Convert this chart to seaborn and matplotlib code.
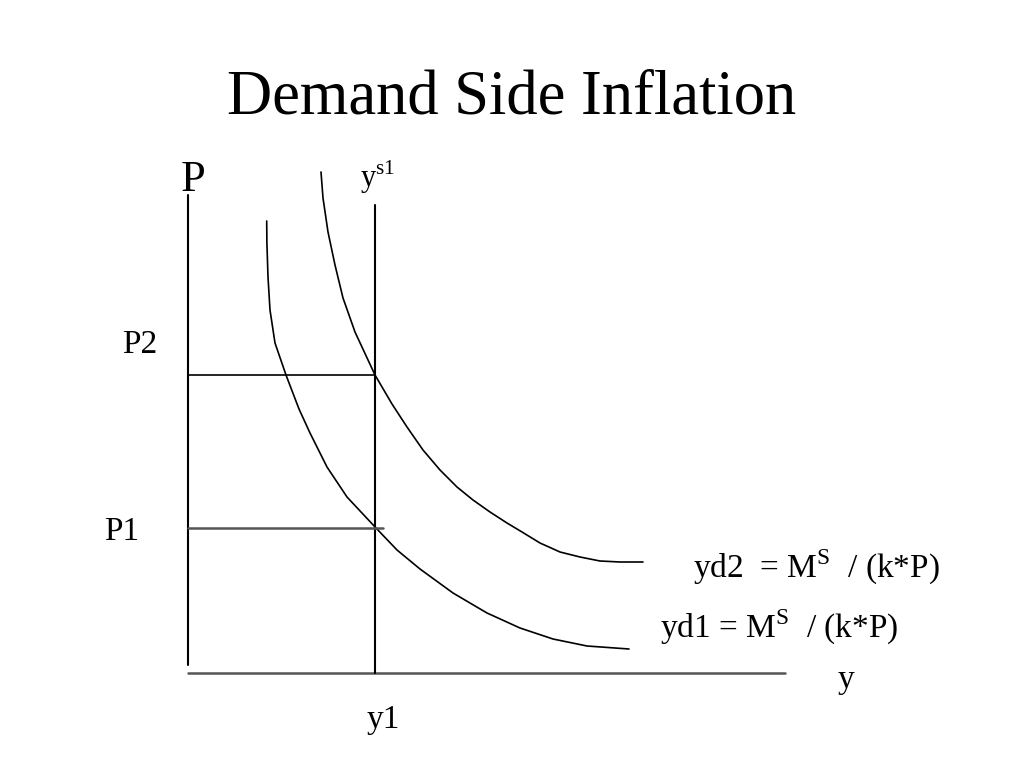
import matplotlib
matplotlib.use('Agg')
import matplotlib.pyplot as plt
import pandas as pd
import seaborn as sns

# Diagram units: origin where the two axes meet (x to the right, P upward)
# Demand curve yd1
yd1_x = [78.7, 78.9, 80, 82, 87, 98, 111, 122, 139, 159, 188, 209, 232, 265, 299, 332, 365, 399, 441]
yd1_p = [452, 430, 396, 363, 330, 298, 264, 240, 206, 176, 145, 123, 104, 80, 60, 45, 34, 27, 24]

# Demand curve yd2 (shifted out)
yd2_x = [133, 135, 140, 147, 155, 167, 187, 204, 219, 235, 252, 269, 285, 302, 319, 334, 352, 372, 392, 412, 432, 455]
yd2_p = [501, 475, 441, 408, 375, 341, 298, 269, 246, 223, 203, 186, 173, 161, 150, 141, 130, 121, 116, 112, 111, 111]

# Supply, price levels and axes extents
y1 = 187
p1 = 145
p2 = 298
x_axis_end = 597
p_axis_top = 478
p_axis_bottom = 8
ys1_top = 468

sns.set_style('white')
plt.rcParams['font.family'] = ['Liberation Serif', 'DejaVu Serif']
plt.rcParams['mathtext.fontset'] = 'custom'
plt.rcParams['mathtext.rm'] = 'Liberation Serif'
plt.rcParams['text.color'] = 'black'

fig = plt.figure(figsize=(10.24, 7.68), dpi=100)
ax = fig.add_axes([0, 0, 1, 1])

df1 = pd.DataFrame({'y': yd1_x, 'P': yd1_p})
df2 = pd.DataFrame({'y': yd2_x, 'P': yd2_p})
sns.lineplot(data=df1, x='y', y='P', sort=False, color='black', linewidth=1.2, ax=ax)
sns.lineplot(data=df2, x='y', y='P', sort=False, color='black', linewidth=1.2, ax=ax)

# axes of the diagram
ax.plot([0, 0], [p_axis_bottom, p_axis_top], color='black', linewidth=1.5)
ax.plot([0, x_axis_end], [0, 0], color='#555555', linewidth=1.8)

# vertical supply line ys1
ax.plot([y1, y1], [0, ys1_top], color='black', linewidth=1.5)

# price level lines
ax.plot([0, y1], [p2, p2], color='black', linewidth=1.2)
ax.plot([0, y1 + 8], [p1, p1], color='#555555', linewidth=1.8)

ax.set_xlim(-188, 836)
ax.set_ylim(-95, 673)
ax.axis('off')

ax.text(324, 575, 'Demand Side Inflation', fontsize=45, ha='center', va='center')
ax.text(5, 493, 'P', fontsize=32, ha='center', va='center')
ax.text(190, 496, r'y$^{\mathrm{s1}}$', fontsize=22, ha='center', va='center')
ax.text(-48, 328, 'P2', fontsize=24, ha='center', va='center')
ax.text(-66, 141, 'P1', fontsize=24, ha='center', va='center')
ax.text(195, -47, 'y1', fontsize=24, ha='center', va='center')
ax.text(658, -7, 'y', fontsize=24, ha='center', va='center')
ax.text(505, 106, r'yd2  = M$^{\mathrm{S}}$  / (k*P)', fontsize=24, ha='left', va='center')
ax.text(472, 46, r'yd1 = M$^{\mathrm{S}}$  / (k*P)', fontsize=24, ha='left', va='center')

fig.savefig('out.png', dpi=100)
